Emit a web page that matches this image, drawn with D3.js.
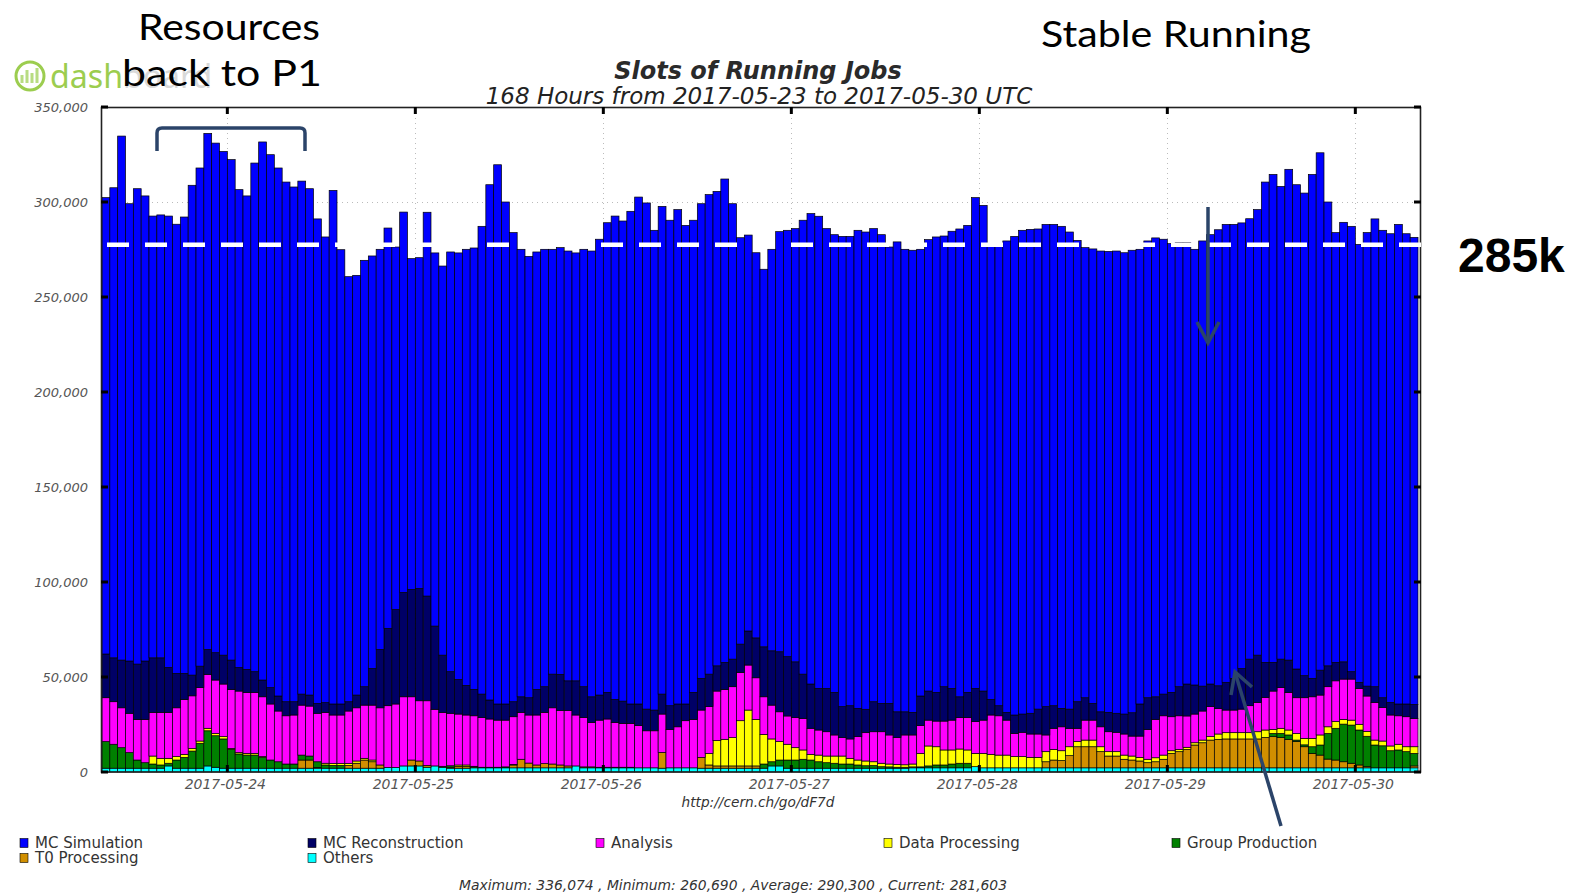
<!DOCTYPE html>
<html>
<head>
<meta charset="utf-8">
<script src="https://cdn.jsdelivr.net/npm/d3@7"></script>
<style>
  body { margin: 0; background: #fff; }
  svg { display: block; }
</style>
</head>
<body>
<svg id="chart" width="1571" height="896"></svg>
<script>
// hourly slots of running jobs, in thousands, 168 bars from 2017-05-23 08:00 UTC
const firstHour = "2017-05-23T08:00:00Z";

const mcSimulation = [
  240.2,247.4,275.8,240.7,250.2,244.8,232.5,233.1,237.6,236.4,
  240.2,257.8,262.2,271.6,268.2,265.1,263.4,251.5,249.2,267.7,
  283.2,280.5,277.9,273.5,270.9,270.0,266.5,255.0,245.1,270.3,
  239.1,223.7,220.9,224.4,217.1,210.6,210.7,190.8,200.2,174.1,
  174.1,202.0,196.4,204.8,220.9,224.5,229.5,232.3,246.2,271.2,
  283.8,264.2,246.9,235.5,232.3,230.2,230.2,223.6,224.6,226.2,
  225.2,230.2,234.6,239.9,247.2,254.4,252.7,259.3,266.8,266.4,
  252.5,256.7,255.5,260.2,251.9,248.5,249.8,252.4,249.7,254.4,
  239.7,213.9,208.4,202.7,198.7,211.3,221.1,224.4,228.0,238.9,
  247.6,248.5,242.0,240.9,247.5,247.0,251.6,251.2,249.0,246.7,
  240.2,247.3,243.4,243.2,235.1,237.6,239.7,237.2,240.6,246.2,
  245.8,258.3,255.6,239.5,243.2,248.1,251.9,254.6,254.7,252.7,
  253.8,253.3,253.7,251.1,242.8,236.9,239.2,242.5,242.6,243.3,
  242.8,243.4,239.3,240.4,241.5,239.4,236.2,233.7,232.3,229.3,
  234.3,236.5,240.0,241.0,238.9,234.5,231.8,234.5,252.8,256.8,
  248.8,258.3,254.9,254.0,265.2,272.3,244.1,226.2,231.3,234.4,
  230.5,238.7,246.2,246.0,246.7,252.4,247.5,245.8
];

const mcReconstruction = [
  23.0,23.1,25.1,27.5,29.1,30.7,28.7,28.7,23.6,18.1,
  13.7,10.9,11.3,13.1,14.4,15.2,15.4,12.4,12.1,10.9,
  8.8,8.6,7.9,7.4,7.0,5.8,5.8,5.2,5.1,5.8,
  5.8,4.9,6.7,9.7,19.3,30.7,40.7,49.7,54.9,56.5,
  59.1,55.1,43.8,30.1,21.9,18.2,15.6,13.9,12.3,10.0,
  8.5,8.5,7.9,8.2,9.1,13.5,13.5,17.7,19.1,15.7,
  18.0,16.2,13.5,13.2,14.0,12.1,11.7,10.2,11.4,11.4,
  10.9,10.5,12.5,12.0,8.8,14.2,16.7,17.1,13.3,14.2,
  14.5,14.9,17.9,21.0,26.3,28.6,31.6,31.2,29.3,23.3,
  23.3,21.9,22.8,22.4,16.3,17.5,14.9,12.3,15.8,14.9,
  16.6,13.6,12.2,11.9,15.6,15.3,15.1,18.1,16.7,11.0,
  13.3,17.5,15.3,8.2,5.3,4.1,9.7,9.6,10.9,13.1,
  14.9,11.9,9.7,10.1,14.0,11.8,8.8,7.9,10.2,10.0,
  10.5,12.3,16.9,16.7,11.9,11.4,12.8,15.3,16.8,15.3,
  13.1,11.9,11.9,14.6,16.7,21.4,24.5,24.9,18.4,15.1,
  15.0,17.0,15.1,11.6,9.7,13.1,11.0,9.7,9.1,3.9,
  3.2,5.2,8.3,5.1,6.6,6.2,6.7,7.4
];

const analysis = [
  23.1,22.4,21.0,20.7,21.4,22.8,23.0,24.2,24.2,25.7,
  28.9,27.7,28.1,28.4,28.1,27.7,31.1,32.4,32.1,32.1,
  31.5,29.5,26.7,25.4,25.8,26.3,26.3,25.5,26.8,25.5,
  25.5,27.6,28.0,28.0,28.9,30.1,32.5,33.4,36.4,33.3,
  31.7,34.0,29.8,28.4,27.6,26.8,26.3,26.6,26.2,25.4,
  24.8,24.6,25.1,24.7,25.3,26.3,27.0,29.6,28.6,29.1,
  26.8,26.0,23.4,24.8,25.4,23.6,23.1,23.1,22.2,19.5,
  19.5,20.2,20.2,21.6,24.8,25.5,24.9,24.6,26.1,26.3,
  26.8,25.4,23.7,21.9,19.8,17.8,15.7,14.9,15.9,16.6,
  13.7,13.2,12.8,11.1,9.7,10.2,12.3,14.9,15.8,16.6,
  15.3,14.1,15.7,15.3,14.6,13.6,13.5,15.2,15.7,16.5,
  17.0,16.7,17.5,20.7,20.7,18.4,12.2,12.8,12.3,12.3,
  8.8,11.1,12.6,9.7,7.0,10.5,10.5,10.5,10.5,10.2,
  11.1,10.5,11.2,15.7,20.2,20.7,17.9,17.7,16.5,15.1,
  15.3,15.8,13.5,11.9,11.9,12.4,14.2,15.4,17.2,20.2,
  21.4,19.8,18.8,21.4,21.9,21.0,21.1,21.5,21.2,21.6,
  18.9,18.6,19.8,17.7,16.3,15.0,15.8,14.9
];

const dataProcessing = [
  0,0,0,0,0,0,4.2,3.5,2.6,1.8,
  1.6,1.4,1.2,1.3,1.2,1.2,0.5,0.7,0.9,0.9,
  0.4,0,0,0,0,0,0,0,0.9,1.0,
  1.0,1.0,1.2,0.9,0.9,0,0,0,0,0,
  0,0,0,0,0,0.7,0.7,0.3,0,0,
  0,0,0,0,0,0,0,0,0,0,
  0,0,0,0,0,0,0,0,0,0,
  0,0,0,0,0,0,0,6.1,13.3,14.0,
  14.9,23.8,29.4,24.5,15.6,12.0,9.7,8.3,6.5,4.9,
  3.0,3.5,3.5,3.8,4.2,3.0,2.6,2.5,2.0,1.8,
  1.5,1.5,1.3,1.5,7.1,10.5,9.6,7.9,7.4,7.5,
  7.0,7.0,7.6,7.1,6.7,6.7,5.9,5.9,5.5,5.5,
  5.3,5.6,5.2,4.7,2.7,3.5,3.5,2.6,2.3,2.3,
  2.2,2.1,1.9,1.8,2.1,2.2,1.4,1.2,1.1,1.2,
  1.4,1.8,2.8,3.3,3.3,3.3,3.3,3.8,3.9,2.1,
  2.7,2.6,3.5,3.4,4.4,5.3,3.5,3.5,2.5,2.6,
  3.0,2.6,2.6,2.5,2.5,3.0,2.6,3.5
];

const groupProduction = [
  14.0,12.6,10.8,8.2,4.3,2.9,2.2,1.7,1.4,4.3,
  5.7,9.0,13.1,18.5,16.6,15.4,9.9,7.5,6.9,6.9,
  5.7,4.3,3.4,2.2,2.2,2.6,2.1,3.0,1.7,1.5,
  1.5,0,0,0,0,0,0,0,0,0,
  0,0,0,0.5,0.8,0,0,0,0.3,0.3,
  0.3,0.5,0.3,0,0,0,0,0,0,0,
  0,0,0,0,0,0,0.3,0.3,0,0,
  0,0,0,0,0,0,0,0,0,0,
  0,0,0,0,2.2,2.2,3.1,4.3,4.3,4.7,
  4.3,3.4,2.9,2.6,2.2,2.2,1.7,1.3,1.4,0.8,
  0.7,0.5,0.5,0,0.5,1.0,1.5,1.5,2.0,2.4,
  2.4,0,0,0,0,0,0,0,0,0,
  0,0,0,0,0,0,0,0,0,0,
  0,0,0,0,0,0,0,0,0,0,
  0,0,0,0,0,0,0,0,0,1.7,
  2.1,2.3,0.8,1.0,3.5,5.3,13.5,16.7,19.8,20.1,
  18.4,16.0,12.0,11.6,9.0,9.4,8.5,6.6
];

const t0Processing = [
  0,0,0,0,0,0,0,0,0,0,
  0,0,0,0,0,0,0,0,0,0,
  0,0,0,0,0,4.3,4.3,0.4,0,0,
  0,1.5,2.6,4.3,3.4,1.7,0,0,0,3.1,
  2.6,1.0,0,0,0.5,1.0,1.0,0.5,0,0,
  0,0,1.5,4.5,2.5,1.5,2.2,2.0,1.5,1.0,
  0,0.5,0.5,0.3,0.3,0.3,0,0,0,0,
  0,8.3,0,0,0,0,5.7,1.7,1.2,1.2,
  1.2,1.2,1.2,1.2,0,0,0,0,0,0,
  0,0,0,0,0,0,0,0,0,0,
  0,0,0,0.5,0,0,0,0,0,0,
  0,0,0,0,0,0,0,0,0,0,
  3.2,4.1,3.8,6.4,11.1,11.1,11.1,8.5,6.2,6.2,
  4.5,4.1,3.6,2.7,3.2,4.5,7.6,8.5,9.7,12.0,
  13.2,14.6,15.0,15.2,15.2,15.2,15.2,15.2,16.0,16.4,
  16.0,15.0,13.8,11.1,7.6,6.7,4.6,4.1,3.2,2.4,
  1.5,0.6,0,0,0,0,0,1.0
];

const others = [
  2.0,2.0,2.0,2.0,2.0,2.0,2.0,2.0,3.2,2.0,
  2.0,2.0,2.0,3.2,2.5,2.0,2.0,2.0,2.0,2.0,
  2.0,2.0,2.0,2.0,2.0,2.0,2.0,2.0,2.0,2.0,
  2.0,2.0,2.0,2.0,2.0,2.0,2.4,2.4,3.2,3.2,
  3.2,2.5,3.2,2.5,2.0,2.0,2.0,2.2,2.2,2.2,
  2.2,2.2,2.2,2.2,2.2,2.2,2.2,2.2,2.2,2.2,
  3.2,2.2,2.2,2.2,2.2,2.2,2.2,2.2,2.2,2.2,
  2.2,2.0,2.2,2.2,2.2,2.2,2.0,2.0,2.0,2.0,
  2.0,2.0,2.0,2.0,2.0,3.2,3.2,2.0,2.0,2.0,
  2.0,2.0,2.0,2.0,2.0,2.0,2.0,2.0,2.0,2.0,
  2.0,2.0,2.0,2.2,2.2,2.2,2.2,2.2,2.2,2.2,
  2.2,2.8,2.2,2.2,2.2,2.2,2.2,2.2,2.2,2.2,
  2.2,2.2,2.2,2.2,2.2,2.2,2.2,2.2,2.2,2.2,
  2.2,2.2,2.2,2.2,2.2,2.2,2.2,2.2,2.2,2.2,
  2.2,2.2,2.2,2.2,2.2,2.2,2.2,2.2,2.2,2.2,
  2.2,2.2,2.2,2.2,2.2,2.2,2.2,2.2,2.2,2.2,
  2.2,2.2,2.2,2.2,2.2,2.2,2.2,2.2
];

// legend order (top of stack first)
const seriesNames = ["MC Simulation", "MC Reconstruction", "Analysis", "Data Processing",
                     "Group Production", "T0 Processing", "Others"];
const seriesColors = ["#0000ff", "#000066", "#ff00ff", "#ffff00", "#008000", "#d18f00", "#00ffff"];
const seriesValues = [mcSimulation, mcReconstruction, analysis, dataProcessing,
                      groupProduction, t0Processing, others];

const yTicks = [0, 50000, 100000, 150000, 200000, 250000, 300000, 350000];
const dayTicks = ["2017-05-24", "2017-05-25", "2017-05-26", "2017-05-27",
                  "2017-05-28", "2017-05-29", "2017-05-30"];
const statLabels = ["Maximum: 336,074", "Minimum: 260,690", "Average: 290,300", "Current: 281,603"];
const stableLevel = 277500;   // white dashed reference line

const svg = d3.select("#chart").attr("font-family", "'DejaVu Sans', sans-serif");
const W = 1571, H = 896;
svg.append("rect").attr("width", W).attr("height", H).attr("fill", "#fff");

const t0 = new Date(firstHour);
const hour = 3600 * 1000;
const tEnd = new Date(t0.getTime() + mcSimulation.length * hour);

const x = d3.scaleUtc().domain([t0, tEnd]).range([102, 1418]);
const y = d3.scaleLinear().domain([0, 350000]).range([772, 107]);

// table for d3.stack
const rows = mcSimulation.map((_, i) => {
  const r = { time: new Date(t0.getTime() + i * hour) };
  seriesNames.forEach((name, k) => { r[name] = seriesValues[k][i] * 1000; });
  return r;
});
const stackKeys = seriesNames.slice().reverse();
const color = d3.scaleOrdinal().domain(seriesNames).range(seriesColors);
const layers = d3.stack().keys(stackKeys)(rows);

// grid
const grid = svg.append("g").attr("stroke", "#bbb").attr("stroke-dasharray", "1,4").attr("stroke-width", 1);
grid.selectAll("line.h").data(yTicks.slice(1, -1)).enter().append("line")
  .attr("x1", 102).attr("x2", 1420)
  .attr("y1", d => Math.round(y(d)) + 0.5).attr("y2", d => Math.round(y(d)) + 0.5);
grid.selectAll("line.v").data(dayTicks).enter().append("line")
  .attr("x1", d => Math.round(x(new Date(d + "T00:00:00Z"))) + 0.5)
  .attr("x2", d => Math.round(x(new Date(d + "T00:00:00Z"))) + 0.5)
  .attr("y1", 108).attr("y2", 771);

// bars
const barG = svg.append("g");
layers.forEach(layer => {
  barG.append("g")
    .attr("fill", color(layer.key))
    .attr("stroke", "#000")
    .attr("stroke-width", 0.7)
    .selectAll("rect")
    .data(layer.filter(d => d[1] - d[0] > 0))
    .enter().append("rect")
    .attr("x", d => x(d.data.time))
    .attr("width", d => x(new Date(d.data.time.getTime() + hour)) - x(d.data.time))
    .attr("y", d => y(d[1]))
    .attr("height", d => y(d[0]) - y(d[1]));
});

// frame
svg.append("rect")
  .attr("x", 101.5).attr("y", 107.5).attr("width", 1319).attr("height", 664.5)
  .attr("fill", "none").attr("stroke", "#222").attr("stroke-width", 1.6);

// ticks
const ticks = svg.append("g").attr("stroke", "#000").attr("stroke-width", 3);
yTicks.forEach(v => {
  ticks.append("line").attr("x1", 101).attr("x2", 108).attr("y1", y(v)).attr("y2", y(v));
  ticks.append("line").attr("x1", 1414).attr("x2", 1421).attr("y1", y(v)).attr("y2", y(v));
});
dayTicks.forEach(d => {
  const xv = x(new Date(d + "T00:00:00Z"));
  ticks.append("line").attr("x1", xv).attr("x2", xv).attr("y1", 107).attr("y2", 114);
  ticks.append("line").attr("x1", xv).attr("x2", xv).attr("y1", 765).attr("y2", 772);
});

// axis labels
const fmt = d3.format(",");
svg.append("g").selectAll("text").data(yTicks).enter().append("text")
  .attr("x", 88).attr("y", d => y(d) + 4.5)
  .attr("text-anchor", "end").attr("font-size", 13).attr("font-style", "italic")
  .attr("fill", "#555").text(d => fmt(d));

svg.append("g").selectAll("text").data(dayTicks).enter().append("text")
  .attr("x", d => x(new Date(d + "T00:00:00Z")) - 2).attr("y", 789)
  .attr("text-anchor", "middle").attr("font-size", 14).attr("font-style", "italic")
  .attr("fill", "#555").text(d => d);

// titles
svg.append("text").attr("x", 758).attr("y", 79).attr("text-anchor", "middle")
  .attr("font-size", 24).attr("font-style", "italic").attr("font-weight", "bold")
  .attr("fill", "#2a2a2a").text("Slots of Running Jobs");
svg.append("text").attr("x", 759).attr("y", 104).attr("text-anchor", "middle")
  .attr("font-size", 23).attr("font-style", "italic")
  .attr("fill", "#222").text("168 Hours from 2017-05-23 to 2017-05-30 UTC");

svg.append("text").attr("x", 758).attr("y", 807).attr("text-anchor", "middle")
  .attr("font-size", 13.7).attr("font-style", "italic").attr("fill", "#333")
  .text("http://cern.ch/go/dF7d");

// legend
const legend = svg.append("g").attr("font-size", 15);
seriesNames.forEach((name, i) => {
  const col = i < 5 ? i : i - 5;
  const row = i < 5 ? 0 : 1;
  const lx = 20 + col * 288, ly = 843 + row * 15;
  legend.append("rect").attr("x", lx).attr("y", ly - 4.5).attr("width", 8).attr("height", 9)
    .attr("fill", color(name)).attr("stroke", "#000").attr("stroke-width", 0.6);
  legend.append("text").attr("x", lx + 15).attr("y", ly + 5).attr("fill", "#333").text(name);
});

svg.append("text").attr("x", 459).attr("y", 890)
  .attr("font-size", 14).attr("font-style", "italic").attr("fill", "#333")
  .attr("textLength", 548).attr("lengthAdjust", "spacingAndGlyphs")
  .text(statLabels.join(" , "));

// white dashed reference line
svg.append("line")
  .attr("x1", 107).attr("x2", 1423).attr("y1", y(stableLevel)).attr("y2", y(stableLevel))
  .attr("stroke", "#fff").attr("stroke-width", 4.5).attr("stroke-dasharray", "22,16");

svg.append("text").attr("x", 1458).attr("y", 272)
  .attr("font-family", "'Liberation Sans', Arial, sans-serif").attr("font-weight", "bold")
  .attr("font-size", 48).attr("fill", "#000").text("285k");

// dashboard logo
const logo = svg.append("g");
logo.append("circle").attr("cx", 30).attr("cy", 76).attr("r", 14)
  .attr("fill", "none").attr("stroke", "#9ccd4f").attr("stroke-width", 3);
[[22, 8], [27, 13], [32, 10], [37, 15]].forEach(([bx, bh]) => {
  logo.append("rect").attr("x", bx - 1.5).attr("y", 83 - bh).attr("width", 3).attr("height", bh)
    .attr("fill", "#b8dc82");
});
logo.append("text").attr("x", 50).attr("y", 88).attr("font-family", "'Noto Sans', sans-serif")
  .attr("font-size", 32).attr("fill", "#9ccd4f")
  .attr("textLength", 73).attr("lengthAdjust", "spacingAndGlyphs").text("dash");
logo.append("text").attr("x", 123).attr("y", 88).attr("font-family", "'Noto Sans', sans-serif")
  .attr("font-size", 32).attr("fill", "#d9d9d9").text("board");

// slide annotations
const note = svg.append("g").attr("font-family", "Lato, 'Noto Sans', sans-serif").attr("fill", "#000");
note.append("text").attr("x", 138).attr("y", 40).attr("font-size", 36)
  .attr("textLength", 182).attr("lengthAdjust", "spacingAndGlyphs").text("Resources");
note.append("text").attr("x", 122).attr("y", 86).attr("font-size", 36)
  .attr("textLength", 200).attr("lengthAdjust", "spacingAndGlyphs").text("back to P1");
note.append("text").attr("x", 1041).attr("y", 47).attr("font-size", 36)
  .attr("textLength", 270).attr("lengthAdjust", "spacingAndGlyphs").text("Stable Running");

const navy = "#2b4469";
svg.append("path")
  .attr("d", "M157,151 L157,133 Q157,128 162,128 L300,128 Q305,128 305,133 L305,151")
  .attr("fill", "none").attr("stroke", navy).attr("stroke-width", 3.5);

svg.append("path").attr("d", "M1208,207 L1208,343").attr("stroke", navy).attr("stroke-width", 3.5);
svg.append("path").attr("d", "M1197,322 L1208,343 L1219,322")
  .attr("fill", "none").attr("stroke", navy).attr("stroke-width", 3.5);

svg.append("path").attr("d", "M1281,826 L1235,672").attr("stroke", navy).attr("stroke-width", 3.5);
svg.append("path").attr("d", "M1231,695 L1235,672 L1252,687")
  .attr("fill", "none").attr("stroke", navy).attr("stroke-width", 3.5);
</script>
</body>
</html>
